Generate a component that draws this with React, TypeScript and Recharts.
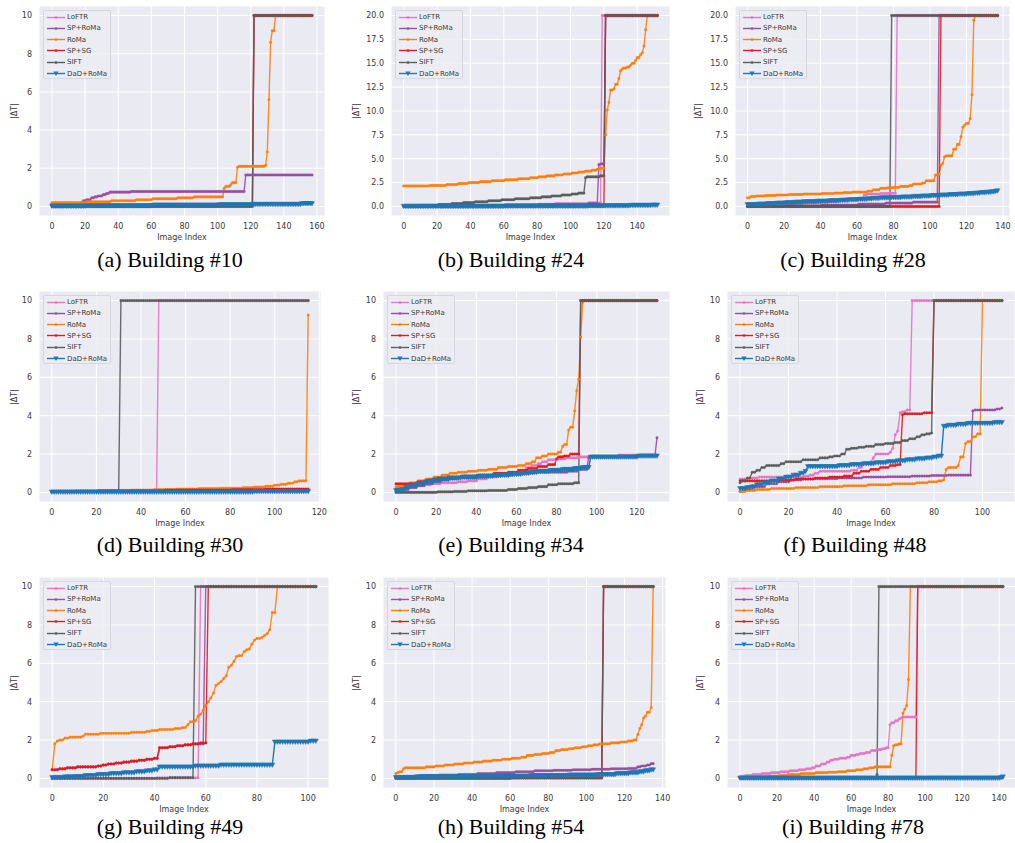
import React from "react";
import { LineChart, Line, XAxis, YAxis, CartesianGrid } from "recharts";

// each run is [value, last index that value holds for]
type Run = [number, number];

// (a) Building #10
const aLoftr: Run[] = [[0.04, 60], [0.06, 121], [10, 157]];
const aSpRoma: Run[] = [[0.15, 17], [0.2, 18], [0.3, 20], [0.35, 23], [0.45, 25], [0.5, 27], [0.55, 30], [0.62, 32], [0.68, 34], [0.75, 47], [0.78, 116], [1.65, 157]];
const aRoma: Run[] = [[0.2, 20], [0.25, 35], [0.3, 50], [0.35, 60], [0.4, 75], [0.45, 85], [0.5, 103], [0.95, 104], [1.05, 107], [1.15, 108], [1.25, 111], [2.05, 112], [2.1, 128], [2.15, 129], [2.85, 130], [5.6, 131], [8.6, 132], [9.2, 134], [10, 157]];
const aSpSg: Run[] = [[0.0, 121], [10, 157]];
const aSift: Run[] = [[0.03, 60], [0.06, 120], [0.1, 121], [10, 157]];
const aDad: Run[] = [[0.02, 20], [0.04, 60], [0.07, 100], [0.09, 120], [0.11, 150], [0.15, 157]];

// (b) Building #24
const bLoftr: Run[] = [[0.05, 30], [0.1, 60], [0.2, 90], [0.3, 110], [0.38, 118], [20, 152]];
const bSpRoma: Run[] = [[0.05, 40], [0.1, 80], [0.2, 110], [0.3, 116], [4.4, 117], [4.45, 119], [4.55, 120], [20, 152]];
const bRoma: Run[] = [[2.15, 15], [2.2, 25], [2.3, 32], [2.4, 38], [2.5, 45], [2.6, 52], [2.7, 60], [2.8, 68], [2.9, 75], [3.0, 80], [3.1, 85], [3.2, 90], [3.3, 95], [3.4, 100], [3.5, 104], [3.6, 108], [3.7, 112], [3.8, 115], [3.9, 117], [4.0, 120], [7.5, 121], [10.1, 122], [10.9, 123], [12.2, 125], [12.3, 126], [12.8, 128], [13.4, 129], [14.2, 130], [14.4, 131], [14.5, 133], [14.6, 135], [14.8, 136], [15.0, 138], [15.3, 139], [15.6, 141], [15.9, 142], [16.1, 143], [16.8, 144], [18.5, 145], [20, 152]];
const bSpSg: Run[] = [[0.02, 120], [20, 152]];
const bSift: Run[] = [[0.05, 10], [0.1, 20], [0.2, 28], [0.3, 35], [0.4, 42], [0.5, 50], [0.6, 58], [0.7, 66], [0.8, 75], [0.9, 82], [1.0, 88], [1.1, 94], [1.2, 100], [1.3, 104], [1.4, 108], [3.0, 109], [3.1, 117], [3.2, 120], [20, 152]];
const bDad: Run[] = [[0.02, 60], [0.04, 110], [0.08, 135], [0.12, 148], [0.15, 152]];

// (c) Building #28
const cLoftr: Run[] = [[0.1, 10], [0.2, 20], [0.3, 30], [0.4, 40], [0.5, 48], [0.6, 53], [0.8, 63], [1.2, 65], [1.3, 72], [1.35, 77], [1.4, 81], [20, 137]];
const cSpRoma: Run[] = [[0.02, 20], [0.08, 40], [0.15, 60], [0.25, 75], [0.35, 90], [0.45, 104], [20, 137]];
const cRoma: Run[] = [[0.9, 1], [1.05, 4], [1.1, 9], [1.15, 15], [1.2, 22], [1.25, 30], [1.3, 40], [1.35, 47], [1.4, 52], [1.45, 57], [1.5, 65], [1.6, 68], [1.75, 72], [1.9, 76], [1.95, 79], [2.0, 83], [2.1, 88], [2.2, 90], [2.35, 95], [2.45, 97], [2.7, 102], [3.3, 104], [3.4, 105], [4.3, 106], [4.5, 107], [5.2, 108], [5.3, 112], [6.0, 114], [6.5, 116], [7.3, 117], [8.3, 118], [8.5, 119], [8.7, 121], [9.2, 122], [11.7, 123], [19.5, 124], [20, 137]];
const cSpSg: Run[] = [[0.0, 105], [20, 137]];
const cSift: Run[] = [[0.0, 78], [20, 137]];
const cDad: Run[] = [[0.2, 5], [0.25, 10], [0.3, 15], [0.35, 20], [0.4, 25], [0.45, 30], [0.5, 37], [0.55, 44], [0.6, 50], [0.65, 55], [0.7, 60], [0.75, 65], [0.8, 68], [0.85, 72], [0.9, 78], [0.95, 84], [1.0, 90], [1.05, 95], [1.1, 100], [1.15, 105], [1.2, 110], [1.25, 115], [1.3, 120], [1.35, 124], [1.4, 127], [1.45, 130], [1.5, 133], [1.55, 135], [1.6, 136], [1.65, 137]];

// (d) Building #30
const dLoftr: Run[] = [[0.03, 47], [10, 115]];
const dSpRoma: Run[] = [[0.05, 60], [0.08, 100], [0.12, 115]];
const dRoma: Run[] = [[0.05, 10], [0.08, 20], [0.1, 35], [0.12, 45], [0.15, 55], [0.18, 65], [0.2, 75], [0.22, 85], [0.25, 90], [0.28, 95], [0.32, 99], [0.38, 102], [0.42, 105], [0.48, 108], [0.55, 110], [0.6, 114], [9.25, 115]];
const dSpSg: Run[] = [[0.05, 20], [0.08, 50], [0.12, 80], [0.15, 95], [0.18, 115]];
const dSift: Run[] = [[0.05, 29], [0.1, 30], [10, 115]];
const dDad: Run[] = [[0.02, 90], [0.05, 115]];

// (e) Building #34
const eLoftr: Run[] = [[0.2, 3], [0.3, 8], [0.35, 12], [0.4, 17], [0.45, 22], [0.5, 30], [0.55, 35], [0.6, 40], [0.7, 45], [0.8, 50], [0.9, 55], [1.0, 60], [1.1, 64], [1.3, 67], [1.4, 70], [1.5, 72], [1.6, 75], [1.7, 80], [1.75, 84], [1.8, 90], [1.85, 110], [1.95, 130]];
const eSpRoma: Run[] = [[0.05, 3], [0.15, 6], [0.25, 10], [0.35, 14], [0.45, 18], [0.55, 22], [0.65, 26], [0.7, 30], [0.75, 40], [0.8, 45], [0.85, 52], [0.9, 58], [0.95, 63], [1.0, 68], [1.05, 85], [1.1, 90], [1.2, 95], [1.8, 96], [1.85, 120], [1.9, 129], [2.85, 130]];
const eRoma: Run[] = [[0.3, 3], [0.4, 6], [0.5, 10], [0.6, 14], [0.7, 18], [0.8, 22], [0.9, 26], [1.0, 30], [1.05, 35], [1.1, 40], [1.15, 45], [1.2, 50], [1.3, 55], [1.35, 60], [1.4, 64], [1.5, 67], [1.6, 69], [1.8, 72], [1.9, 75], [2.0, 80], [2.1, 82], [2.4, 83], [2.5, 85], [3.25, 86], [3.4, 88], [4.25, 89], [5.3, 90], [5.9, 91], [8.1, 92], [9.9, 93], [10, 130]];
const eSpSg: Run[] = [[0.45, 10], [0.55, 15], [0.65, 20], [0.75, 25], [0.8, 32], [0.85, 40], [0.9, 48], [1.0, 55], [1.05, 60], [1.15, 65], [1.25, 70], [1.35, 75], [1.45, 79], [1.75, 80], [1.85, 83], [1.9, 86], [2.0, 91], [10, 130]];
const eSift: Run[] = [[0.0, 20], [0.03, 28], [0.05, 35], [0.08, 45], [0.1, 55], [0.15, 60], [0.2, 65], [0.25, 70], [0.3, 75], [0.4, 80], [0.45, 88], [0.5, 91], [10, 130]];
const eDad: Run[] = [[0.1, 2], [0.15, 4], [0.25, 6], [0.35, 10], [0.45, 14], [0.55, 18], [0.65, 22], [0.7, 26], [0.75, 32], [0.8, 40], [0.85, 48], [0.9, 56], [0.95, 62], [1.0, 66], [1.05, 70], [1.1, 76], [1.15, 82], [1.2, 88], [1.25, 92], [1.3, 96], [1.85, 120], [1.9, 130]];

// (f) Building #48
const fLoftr: Run[] = [[0.7, 3], [0.75, 7], [0.8, 26], [0.85, 28], [0.9, 30], [1.0, 32], [1.1, 45], [1.15, 48], [1.3, 50], [1.5, 53], [1.6, 54], [1.8, 55], [2.0, 61], [2.1, 62], [2.3, 63], [3.0, 64], [3.2, 65], [4.15, 66], [4.2, 68], [4.3, 70], [10, 108]];
const fSpRoma: Run[] = [[0.05, 1], [0.15, 5], [0.3, 10], [0.45, 15], [0.55, 20], [0.65, 25], [0.7, 30], [0.72, 40], [0.75, 50], [0.8, 60], [0.82, 70], [0.85, 78], [0.88, 85], [0.9, 95], [4.25, 96], [4.3, 105], [4.35, 107], [4.4, 108]];
const fRoma: Run[] = [[0.05, 2], [0.1, 6], [0.15, 12], [0.2, 22], [0.25, 32], [0.3, 42], [0.35, 52], [0.4, 62], [0.45, 72], [0.5, 77], [0.55, 81], [0.6, 83], [0.65, 84], [1.2, 85], [1.3, 89], [1.4, 90], [1.85, 92], [2.55, 93], [2.65, 95], [2.9, 97], [3.05, 99], [10, 108]];
const fSpSg: Run[] = [[0.6, 15], [0.65, 22], [0.7, 30], [0.75, 36], [0.8, 42], [0.85, 46], [1.0, 49], [1.1, 53], [1.2, 57], [1.3, 61], [1.4, 64], [1.45, 66], [4.05, 67], [4.1, 75], [4.15, 79], [10, 108]];
const fSift: Run[] = [[0.5, 0], [0.6, 2], [0.75, 4], [1.05, 6], [1.15, 8], [1.3, 10], [1.4, 16], [1.5, 18], [1.6, 25], [1.7, 32], [1.8, 36], [1.85, 38], [1.9, 41], [2.0, 43], [2.25, 45], [2.3, 48], [2.35, 51], [2.4, 55], [2.5, 59], [2.55, 63], [2.6, 66], [2.7, 69], [2.8, 72], [2.9, 74], [3.0, 76], [3.05, 78], [3.1, 79], [10, 108]];
const fDad: Run[] = [[0.2, 2], [0.25, 4], [0.3, 6], [0.4, 9], [0.5, 12], [0.6, 15], [0.7, 18], [0.8, 21], [0.9, 24], [1.0, 26], [1.1, 27], [1.35, 40], [1.4, 45], [1.45, 50], [1.5, 55], [1.55, 60], [1.6, 64], [1.65, 68], [1.7, 72], [1.75, 76], [1.8, 79], [1.85, 81], [1.9, 83], [3.45, 85], [3.5, 89], [3.55, 93], [3.6, 104], [3.65, 108]];

// (g) Building #49
const gLoftr: Run[] = [[0.0, 40], [0.03, 57], [10, 103]];
const gSpRoma: Run[] = [[0.45, 2], [0.5, 5], [0.55, 9], [0.6, 17], [0.65, 19], [0.7, 21], [0.75, 24], [0.8, 27], [0.85, 30], [0.9, 33], [0.95, 36], [1.0, 39], [1.05, 41], [1.6, 45], [1.65, 48], [1.7, 51], [1.75, 54], [1.8, 59], [10, 103]];
const gRoma: Run[] = [[0.45, 0], [1.8, 1], [1.95, 2], [2.0, 4], [2.1, 6], [2.15, 11], [2.2, 12], [2.3, 18], [2.35, 30], [2.4, 36], [2.45, 38], [2.5, 41], [2.55, 47], [2.6, 50], [2.65, 52], [2.8, 53], [2.95, 55], [3.0, 56], [3.25, 57], [3.35, 58], [3.55, 59], [3.8, 60], [4.0, 61], [4.2, 62], [4.45, 63], [4.85, 64], [4.95, 65], [5.05, 66], [5.2, 67], [5.35, 68], [5.8, 69], [5.9, 70], [6.1, 71], [6.35, 72], [6.4, 74], [6.6, 75], [6.7, 76], [6.75, 77], [7.0, 78], [7.2, 79], [7.3, 81], [7.35, 82], [7.45, 83], [7.55, 84], [7.75, 85], [8.65, 87], [10, 103]];
const gSpSg: Run[] = [[0.45, 2], [0.5, 5], [0.55, 9], [0.6, 17], [0.65, 19], [0.7, 21], [0.75, 24], [0.8, 27], [0.85, 30], [0.9, 33], [0.95, 36], [1.0, 39], [1.05, 41], [1.6, 45], [1.65, 48], [1.7, 51], [1.75, 54], [1.8, 57], [1.85, 60], [10, 103]];
const gSift: Run[] = [[0.0, 45], [0.04, 55], [10, 103]];
const gDad: Run[] = [[0.05, 4], [0.08, 8], [0.1, 12], [0.15, 17], [0.2, 22], [0.25, 27], [0.3, 32], [0.35, 36], [0.4, 39], [0.45, 41], [0.6, 55], [0.65, 65], [0.7, 86], [1.9, 100], [1.95, 103]];

// (h) Building #54
const hLoftr: Run[] = [[0.03, 60], [0.05, 108], [10, 135]];
const hSpRoma: Run[] = [[0.05, 5], [0.1, 12], [0.15, 22], [0.18, 32], [0.2, 42], [0.25, 52], [0.3, 62], [0.35, 72], [0.4, 82], [0.42, 92], [0.45, 102], [0.48, 112], [0.5, 121], [0.52, 126], [0.6, 128], [0.65, 131], [0.7, 133], [0.77, 135]];
const hRoma: Run[] = [[0.25, 0], [0.3, 1], [0.35, 3], [0.5, 4], [0.55, 15], [0.6, 20], [0.65, 25], [0.7, 30], [0.75, 35], [0.8, 40], [0.85, 45], [0.9, 50], [0.95, 55], [1.0, 60], [1.05, 65], [1.1, 68], [1.2, 72], [1.25, 76], [1.3, 80], [1.35, 83], [1.45, 86], [1.5, 90], [1.55, 93], [1.6, 97], [1.65, 100], [1.7, 103], [1.75, 106], [1.8, 112], [1.85, 117], [1.9, 121], [1.95, 124], [2.0, 126], [2.3, 127], [2.6, 128], [2.8, 129], [3.15, 130], [3.25, 131], [3.45, 133], [3.7, 134], [10, 135]];
const hSpSg: Run[] = [[0.02, 108], [10, 135]];
const hSift: Run[] = [[0.0, 60], [0.03, 108], [10, 135]];
const hDad: Run[] = [[0.05, 10], [0.08, 30], [0.1, 50], [0.12, 70], [0.15, 90], [0.18, 105], [0.2, 115], [0.25, 122], [0.3, 127], [0.35, 130], [0.4, 133], [0.45, 135]];

// (i) Building #78
const iLoftr: Run[] = [[0.1, 2], [0.15, 6], [0.2, 11], [0.25, 16], [0.3, 21], [0.35, 26], [0.4, 31], [0.45, 35], [0.5, 38], [0.55, 40], [0.65, 43], [0.75, 46], [0.85, 48], [0.95, 50], [1.0, 53], [1.05, 57], [1.1, 59], [1.2, 62], [1.25, 64], [1.3, 67], [1.35, 70], [1.45, 73], [1.5, 76], [1.55, 78], [1.6, 80], [2.8, 81], [2.9, 83], [3.0, 85], [3.1, 86], [3.15, 87], [3.2, 95], [10, 142]];
const iSpRoma: Run[] = [[0.02, 100], [0.04, 142]];
const iRoma: Run[] = [[0.05, 5], [0.08, 10], [0.1, 15], [0.12, 20], [0.15, 25], [0.2, 32], [0.25, 40], [0.3, 47], [0.32, 52], [0.35, 57], [0.4, 62], [0.45, 66], [0.5, 69], [0.55, 72], [0.6, 81], [1.2, 82], [1.7, 83], [1.75, 85], [1.8, 87], [3.4, 88], [3.6, 89], [3.8, 90], [5.15, 91], [10, 142]];
const iSpSg: Run[] = [[0.02, 95], [10, 142]];
const iSift: Run[] = [[0.02, 73], [0.2, 74], [10, 142]];
const iDad: Run[] = [[0.02, 140], [0.05, 141], [0.08, 142]];

// tick labels
const xTicks100 = [0, 20, 40, 60, 80, 100];
const xTicks120 = [0, 20, 40, 60, 80, 100, 120];
const xTicks140 = [0, 20, 40, 60, 80, 100, 120, 140];
const xTicks160 = [0, 20, 40, 60, 80, 100, 120, 140, 160];
const yTicks10 = [0, 2, 4, 6, 8, 10];
const yTicks20 = [0, 2.5, 5, 7.5, 10, 12.5, 15, 17.5, 20];

const SERIES = [
  { key: "loftr", name: "LoFTR", color: "#e377c2" },
  { key: "sproma", name: "SP+RoMa", color: "#984ea3" },
  { key: "roma", name: "RoMa", color: "#ff7f0e" },
  { key: "spsg", name: "SP+SG", color: "#e41a1c" },
  { key: "sift", name: "SIFT", color: "#5c5c5c" },
  { key: "dad", name: "DaD+RoMa", color: "#1f77b4" },
];

const FONT = "'DejaVu Sans', sans-serif";
const TXT = "#3a3a3a";

interface PanelDef {
  caption: string;
  n: number;
  ymax: number;
  left: number;
  right: number;
  top: number;
  bottom: number;
  xTicks: number[];
  capX: number;
  capY: number;
  yLabelX: number;
  runs: Run[][];
}

const PANELS: PanelDef[] = [
  { caption: "(a) Building #10", n: 158, ymax: 10, left: 39, right: 325, top: 6, bottom: 216, xTicks: xTicks160, capX: 170, capY: 260, yLabelX: 14, runs: [aLoftr, aSpRoma, aRoma, aSpSg, aSift, aDad] },
  { caption: "(b) Building #24", n: 153, ymax: 20, left: 391, right: 670, top: 6, bottom: 216, xTicks: xTicks140, capX: 511, capY: 260, yLabelX: 356, runs: [bLoftr, bSpRoma, bRoma, bSpSg, bSift, bDad] },
  { caption: "(c) Building #28", n: 138, ymax: 20, left: 735, right: 1010, top: 6, bottom: 216, xTicks: xTicks140, capX: 853, capY: 260, yLabelX: 698, runs: [cLoftr, cSpRoma, cRoma, cSpSg, cSift, cDad] },
  { caption: "(d) Building #30", n: 116, ymax: 10, left: 39, right: 321, top: 291, bottom: 502, xTicks: xTicks120, capX: 170, capY: 545, yLabelX: 14, runs: [dLoftr, dSpRoma, dRoma, dSpSg, dSift, dDad] },
  { caption: "(e) Building #34", n: 131, ymax: 10, left: 383, right: 670, top: 291, bottom: 502, xTicks: xTicks120, capX: 511, capY: 545, yLabelX: 356, runs: [eLoftr, eSpRoma, eRoma, eSpSg, eSift, eDad] },
  { caption: "(f) Building #48", n: 109, ymax: 10, left: 727, right: 1015, top: 291, bottom: 502, xTicks: xTicks100, capX: 855, capY: 545, yLabelX: 700, runs: [fLoftr, fSpRoma, fRoma, fSpSg, fSift, fDad] },
  { caption: "(g) Building #49", n: 104, ymax: 10, left: 39, right: 329, top: 577, bottom: 788, xTicks: xTicks100, capX: 170, capY: 827, yLabelX: 14, runs: [gLoftr, gSpRoma, gRoma, gSpSg, gSift, gDad] },
  { caption: "(h) Building #54", n: 136, ymax: 10, left: 383, right: 666, top: 577, bottom: 788, xTicks: xTicks140, capX: 511, capY: 827, yLabelX: 356, runs: [hLoftr, hSpRoma, hRoma, hSpSg, hSift, hDad] },
  { caption: "(i) Building #78", n: 143, ymax: 10, left: 727, right: 1016, top: 577, bottom: 788, xTicks: xTicks140, capX: 853, capY: 827, yLabelX: 700, runs: [iLoftr, iSpRoma, iRoma, iSpSg, iSift, iDad] },
];

function expand(runs: Run[], n: number): number[] {
  const out: number[] = [];
  let r = 0;
  for (let i = 0; i < n; i++) {
    while (r < runs.length - 1 && i > runs[r][1]) r++;
    out.push(runs[r][0]);
  }
  return out;
}

function triangle(color: string) {
  return (props: any) => {
    const { cx, cy, index } = props;
    if (cx == null || cy == null) return <g key={`t${index}`} />;
    return (
      <path
        key={`t${index}`}
        d={`M${cx - 2.6},${cy - 2} L${cx + 2.6},${cy - 2} L${cx},${cy + 2.5} Z`}
        fill={color}
        stroke={color}
        strokeWidth={0.4}
      />
    );
  };
}

function LegendBox({ x, y }: { x: number; y: number }) {
  return (
    <div
      style={{
        position: "absolute",
        left: x,
        top: y,
        width: 68,
        height: 69,
        boxSizing: "border-box",
        background: "rgba(236,236,243,0.85)",
        border: "1px solid #d6d6de",
        borderRadius: 2,
      }}
    >
      {SERIES.map((s, k) => (
        <div
          key={s.key}
          style={{ position: "absolute", left: 0, top: 0.5 + k * 11.3, height: 11, display: "flex", alignItems: "center" }}
        >
          <svg width={23} height={11} style={{ display: "block" }}>
            <line x1={3} x2={21} y1={5.5} y2={5.5} stroke={s.color} strokeWidth={1.4} />
            {s.key === "dad" ? (
              <path d="M9.4,3.5 L14.6,3.5 L12,8 Z" fill={s.color} />
            ) : (
              <circle cx={12} cy={5.5} r={1.3} fill={s.color} />
            )}
          </svg>
          <span style={{ fontSize: 7, fontFamily: FONT, color: TXT, whiteSpace: "nowrap" }}>{s.name}</span>
        </div>
      ))}
    </div>
  );
}

function Panel({ p }: { p: PanelDef }) {
  const w = p.right - p.left;
  const h = p.bottom - p.top;
  const cols = p.runs.map((r) => expand(r, p.n));
  const data = Array.from({ length: p.n }, (_, i) => {
    const row: any = { i };
    SERIES.forEach((s, k) => {
      row[s.key] = cols[k][i];
    });
    return row;
  });
  const last = p.n - 1;
  const pad = p.ymax / 20;
  const yTicks = p.ymax === 20 ? yTicks20 : yTicks10;

  return (
    <>
      <div style={{ position: "absolute", left: p.left - 40, top: p.top - 6 }}>
        <LineChart width={w + 46} height={h + 46} data={data} margin={{ top: 6, right: 6, bottom: 0, left: 0 }}>
          <CartesianGrid fill="#eaeaf2" stroke="#ffffff" strokeWidth={1} />
          <XAxis
            dataKey="i"
            type="number"
            domain={[-0.05 * last, 1.05 * last]}
            ticks={p.xTicks}
            interval={0}
            allowDataOverflow
            axisLine={false}
            tickLine={false}
            tickSize={5}
            tickMargin={2}
            height={40}
            tick={{ fontSize: 8, fill: TXT, fontFamily: FONT }}
            label={{ value: "Image Index", position: "insideBottom", offset: 16, fontSize: 8, fill: TXT, fontFamily: FONT }}
          />
          <YAxis
            type="number"
            domain={[-pad, p.ymax + pad]}
            ticks={yTicks}
            interval={0}
            allowDataOverflow
            axisLine={false}
            tickLine={false}
            tickSize={4}
            tickMargin={3}
            width={40}
            tick={{ fontSize: 8, fill: TXT, fontFamily: FONT }}
            tickFormatter={(v: number) => (p.ymax === 20 ? v.toFixed(1) : String(v))}
          />
          {SERIES.map((s) => (
            <Line
              key={s.key}
              type="linear"
              dataKey={s.key}
              stroke={s.color}
              strokeWidth={1.4}
              strokeOpacity={s.key === "dad" ? 1 : 0.9}
              dot={s.key === "dad" ? triangle(s.color) : { r: 1.3, fill: s.color, stroke: s.color, strokeWidth: 0.3 }}
              activeDot={false}
              isAnimationActive={false}
            />
          ))}
        </LineChart>
      </div>
      <LegendBox x={p.left + 4} y={p.top + 4} />
      <div
        style={{
          position: "absolute",
          left: p.yLabelX,
          top: (p.top + p.bottom) / 2,
          transform: "translate(-50%, -50%) rotate(-90deg)",
          fontSize: 8,
          fontFamily: FONT,
          color: TXT,
          whiteSpace: "nowrap",
        }}
      >
        |ΔT|
      </div>
      <div
        style={{
          position: "absolute",
          left: p.capX,
          top: p.capY,
          transform: "translate(-50%, -50%)",
          fontSize: 22,
          fontFamily: "'Liberation Serif', 'Times New Roman', serif",
          color: "#000",
          whiteSpace: "nowrap",
        }}
      >
        {p.caption}
      </div>
    </>
  );
}

export default function App() {
  return (
    <div
      style={{
        position: "absolute",
        left: 0,
        top: 0,
        width: 1015,
        height: 843,
        overflow: "hidden",
        background: "#fff",
      }}
    >
      {PANELS.map((p) => (
        <Panel key={p.caption} p={p} />
      ))}
    </div>
  );
}
